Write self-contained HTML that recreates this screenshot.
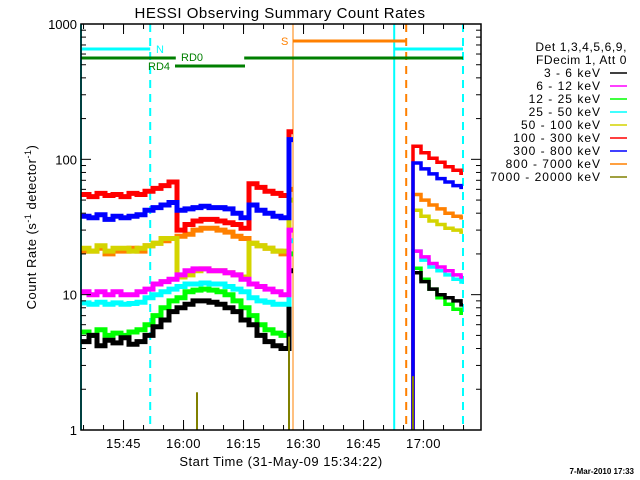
<!DOCTYPE html>
<html><head><meta charset="utf-8"><style>
body{margin:0;background:#fff;}
svg{display:block;font-family:"Liberation Sans",sans-serif;}
</style></head><body>
<svg id="chart" width="640" height="480" viewBox="0 0 640 480" xmlns="http://www.w3.org/2000/svg">
<rect width="640" height="480" fill="#fff"/>
<text x="280" y="18" font-size="15" text-anchor="middle" letter-spacing="0.5">HESSI Observing Summary Count Rates</text>
<text transform="translate(36,227) rotate(-90)" font-size="13" text-anchor="middle" letter-spacing="0.5">Count Rate (s<tspan font-size="9" dy="-5">-1</tspan><tspan dy="5"> detector</tspan><tspan font-size="9" dy="-5">-1</tspan><tspan dy="5">)</tspan></text>
<text x="281" y="466" font-size="13" text-anchor="middle" letter-spacing="0.5">Start Time (31-May-09 15:34:22)</text>
<text x="634" y="474" font-size="8" text-anchor="end" font-weight="bold">7-Mar-2010 17:33</text>
<g id="marks"></g>
<g id="axes"></g>
<g id="legend"></g>
</svg>
<script>
// ---- data ----
const leftTimes = [0,2,4,6,8,10,12,14,16,18,20,22,24,26,28,30,32,34,36,38,40,42,44,46,48,50,52];
const rightTimes = [83,85,87,89,91,93,95];
const seriesLabels = ["3 - 6 keV","6 - 12 keV","12 - 25 keV","25 - 50 keV","50 - 100 keV","100 - 300 keV","300 - 800 keV","800 - 7000 keV","7000 - 20000 keV"];
const blackLeft = [4.5,5,4.2,4.6,4.4,4.8,4.3,4.5,5,5.8,6.5,7.5,8,8.5,9,9,8.8,8.5,8,7.5,6.5,6,5,4.5,4.2,4,15];
const magentaLeft = [10.5,10,10.5,10,10.5,10,10,10.5,11,12,12.5,13,14,15,15.5,15.5,15,15,14.5,14,13,12,11.5,11,10.5,10,30];
const greenLeft = [5.3,5,5.5,5,5.2,5,5.3,5.5,6,7,8,9,9.5,10.5,10.8,11,10.8,10.5,10,9,8,7,6,5.5,5.2,5,20];
const cyanLeft = [8.7,8.5,8.8,8.5,8.7,8.5,8.6,8.8,9.5,10,10.5,11,11.5,12,12,12.2,12,12,11.5,11,10.5,9.5,9,8.8,8.5,8.5,25];
const yellowLeft = [22,21,23,21,22,22,21,22,23,24,26,26,13.5,14,15,15.5,15,15,14.5,14,13.5,24,23,22,21,21,50];
const redLeft = [55,53,56,54,55,53,56,55,58,61,64,68,30,33,35,36,36,35,34,33,31,66,62,58,56,54,160];
const blueLeft = [38,37,39,36,38,37,38,39,42,44,46,48,42,43,44,45,44,44,43,40,37,46,42,40,38,37,140];
const orangeLeft = [21,21,22,20,21,21,22,21,23,24,25,26,27,28,30,31,31,30,29,27,26,24,23,22,21,20,60];
const blackRight = [14.5,12.5,11,10,9.5,9,8.4];
const magentaRight = [21,19,17,16,15,14,13.5];
const greenRight = [15.7,13,11,9.5,8.5,7.8,7.3];
const cyanRight = [21,18,16,15,14,13,12.4];
const yellowRight = [42,38,35,33,31,30,29];
const redRight = [125,112,102,95,88,83,79];
const blueRight = [94,85,78,72,68,64,62];
const orangeRight = [55,50,46,43,40,38,37];
const oliveSpikeTimes = [29,52,83];
const oliveSpikeValues = [1.9,4.9,2.5];
const xTickLabels = ["15:45","16:00","16:15","16:30","16:45","17:00"];
const xTickMinutes = [10.633,25.633,40.633,55.633,70.633,85.633];
const yTickValues = [1,10,100,1000];
const yTickLabels = ["1","10","100","1000"];
const solidCyanTimes = [0,78.3];
const dashedCyanTimes = [17.3,95.5];
const solidOrangeTimes = [53];
const dashedOrangeTimes = [81.3];
// ---- scales ----
const X0=81,X1=481,Y0=24,Y1=430,T0=0,T1=100;
function xs(t){return X0+(t-T0)/(T1-T0)*(X1-X0);}
function ys(v){return Y1-(Math.log10(v)-0)/3*(Y1-Y0);}
const NS="http://www.w3.org/2000/svg";
function mk(tag,attrs,parent){const e=document.createElementNS(NS,tag);for(const k in attrs)e.setAttribute(k,attrs[k]);parent.appendChild(e);return e;}
const marks=document.getElementById('marks'),axes=document.getElementById('axes'),legend=document.getElementById('legend');
const colors=["#000000","#ff00ff","#00ff00","#00ffff","#d4d400","#ff0000","#0000ff","#ff8000","#808000"];
const lefts=[blackLeft,magentaLeft,greenLeft,cyanLeft,yellowLeft,redLeft,blueLeft,orangeLeft];
const rights=[blackRight,magentaRight,greenRight,cyanRight,yellowRight,redRight,blueRight,orangeRight];
const drawOrder=[7,4,2,0,3,1,5,6];
function stepPath(times,vals,tEnd){let d='';for(let i=0;i<times.length;i++){const x=xs(times[i]),y=ys(vals[i]);const xn=i<times.length-1?xs(times[i+1]):xs(tEnd);d+=(i?'L':'M')+x.toFixed(1)+','+y.toFixed(1)+'L'+xn.toFixed(1)+','+y.toFixed(1);}return d;}
function vline(t,color,dash,w,name){const l=mk('line',{x1:xs(t),x2:xs(t),y1:Y0,y2:Y1,stroke:color,'stroke-width':w},marks);if(dash)l.setAttribute('stroke-dasharray','8,6');

}
solidCyanTimes.forEach(t=>vline(t,'#00ffff',false,2,'saa-marker'));
dashedCyanTimes.forEach(t=>vline(t,'#00ffff',true,2,'night-marker'));
solidOrangeTimes.forEach(t=>vline(t,'#ff8000',false,1,'attenuator-marker'));
dashedOrangeTimes.forEach(t=>vline(t,'#ff8000',true,2,'attenuator-end-marker'));
drawOrder.forEach(i=>{
 const p1=mk('path',{d:stepPath(leftTimes,lefts[i],53),fill:'none',stroke:colors[i],'stroke-width':5},marks);
 
 
 const p2=mk('path',{d:'M'+xs(rightTimes[0])+','+ys(1)+stepPath(rightTimes,rights[i],95.5).replace('M','L'),fill:'none',stroke:colors[i],'stroke-width':3.5},marks);
 
 
});
oliveSpikeTimes.forEach((t,i)=>{const l=mk('line',{x1:xs(t),x2:xs(t),y1:Y1,y2:ys(oliveSpikeValues[i]),stroke:'#808000','stroke-width':2},marks);

});
const bars=[[0,17.3,49,'#00ffff'],[78.3,95.5,49,'#00ffff'],[53,81.3,41,'#ff8000'],[0,23.7,58,'#007f00'],[40.8,95.5,58,'#007f00'],[23.5,41,66,'#007f00']];
bars.forEach(b=>{const l=mk('line',{x1:xs(b[0]),x2:xs(b[1]),y1:b[2],y2:b[2],stroke:b[3],'stroke-width':3},marks);

});
[['N',156,53,'#00ffff'],['RD0',181,61,'#007f00'],['RD4',148,70,'#007f00'],['S',281,45,'#ff8000']].forEach(a=>{const t=mk('text',{x:a[1],y:a[2],fill:a[3],'font-size':11},marks);t.textContent=a[0];

});
const box=mk('rect',{x:X0,y:Y0,width:X1-X0,height:Y1-Y0,fill:'none',stroke:'#000','stroke-width':1.5},axes);


for(let d=0;d<3;d++)for(let m=2;m<=9;m++){const y=ys(m*Math.pow(10,d));mk('line',{x1:X0,x2:X0+5,y1:y,y2:y,stroke:'#000'},axes);mk('line',{x1:X1,x2:X1-5,y1:y,y2:y,stroke:'#000'},axes);}
yTickValues.forEach((v,i)=>{const y=ys(v);mk('line',{x1:X0,x2:X0+10,y1:y,y2:y,stroke:'#000'},axes);mk('line',{x1:X1,x2:X1-10,y1:y,y2:y,stroke:'#000'},axes);
 const t=mk('text',{x:X0-4,y:y+5,'font-size':13,'text-anchor':'end'},axes);t.textContent=yTickLabels[i];
 
 });
for(let t=xTickMinutes[0]-10;t<T1;t+=5){if(t<=0)continue;const x=xs(t);mk('line',{x1:x,x2:x,y1:Y1,y2:Y1-5,stroke:'#000'},axes);mk('line',{x1:x,x2:x,y1:Y0,y2:Y0+5,stroke:'#000'},axes);}
xTickMinutes.forEach((t,i)=>{const x=xs(t);mk('line',{x1:x,x2:x,y1:Y1,y2:Y1-10,stroke:'#000'},axes);mk('line',{x1:x,x2:x,y1:Y0,y2:Y0+10,stroke:'#000'},axes);
 const tx=mk('text',{x:x,y:Y1+18,'font-size':13,'text-anchor':'middle','letter-spacing':0.5},axes);tx.textContent=xTickLabels[i];
 
 });
['Det 1,3,4,5,6,9,','FDecim 1, Att 0'].forEach((s,i)=>{const t=mk('text',{x:627,y:51+i*13,'font-size':12,'text-anchor':'end','letter-spacing':0.6},legend);t.textContent=s;

});
seriesLabels.forEach((s,i)=>{const y=77+i*13;const t=mk('text',{x:601,y:y,'font-size':12,'text-anchor':'end','letter-spacing':1},legend);t.textContent=s.replace(/ - /g,'  -  ');
t.setAttribute('xml:space','preserve');


const l=mk('line',{x1:610,x2:627,y1:y-4,y2:y-4,stroke:colors[i],'stroke-width':1.5},legend);

});
</script>
</body></html>
